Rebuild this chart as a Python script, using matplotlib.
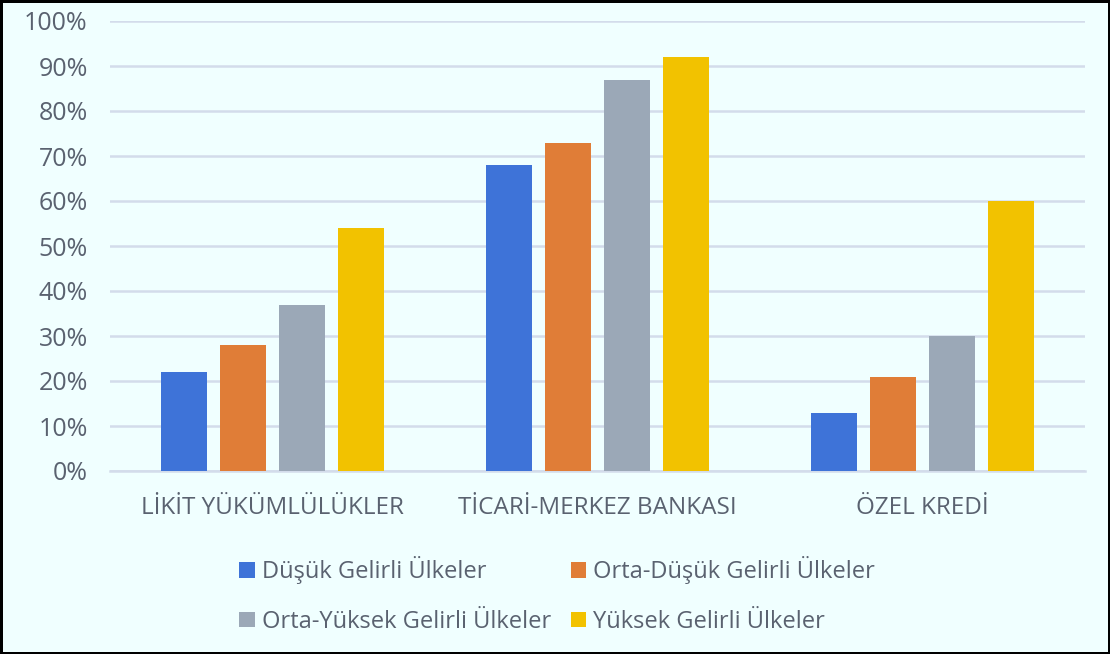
import numpy as np
import matplotlib.pyplot as plt
from matplotlib.ticker import PercentFormatter

kategoriler = ["LİKİT YÜKÜMLÜLÜKLER", "TİCARİ-MERKEZ BANKASI", "ÖZEL KREDİ"]
seriler = ["Düşük Gelirli Ülkeler", "Orta-Düşük Gelirli Ülkeler",
           "Orta-Yüksek Gelirli Ülkeler", "Yüksek Gelirli Ülkeler"]
dusuk = [22, 68, 13]
orta_dusuk = [28, 73, 21]
orta_yuksek = [37, 87, 30]
yuksek = [54, 92, 60]
renkler = ["#3E73D8", "#E07D37", "#9BA8B7", "#F2C200"]

plt.rcParams["font.family"] = ["Open Sans", "DejaVu Sans"]
yazi_rengi = "#5A6270"
arka = "#F0FFFF"

fig = plt.figure(figsize=(11.1, 6.54), dpi=100)
fig.patch.set_facecolor(arka)
fig.patch.set_edgecolor("black")
fig.patch.set_linewidth(2.5)
ax = fig.add_axes([110 / 1110, (654 - 471) / 654, 975 / 1110, 450 / 654])
ax.set_facecolor(arka)

x = np.arange(len(kategoriler))
genislik = 0.1415
adim = 0.1815
degerler = [dusuk, orta_dusuk, orta_yuksek, yuksek]
for i, (ad, vals) in enumerate(zip(seriler, degerler)):
    ax.bar(x + (i - 1.5) * adim, vals, genislik, color=renkler[i], label=ad, zorder=3)

ax.set_xlim(-0.5, 2.5)
ax.set_ylim(0, 100)
ax.set_yticks(range(0, 101, 10))
ax.yaxis.set_major_formatter(PercentFormatter(decimals=0))
ax.set_xticks(x)
ax.set_xticklabels(kategoriler)
ax.tick_params(axis="y", length=0, labelsize=18, colors=yazi_rengi, pad=16)
ax.tick_params(axis="x", length=0, labelsize=17.5, colors=yazi_rengi, pad=18)
ax.grid(axis="y", color="#D3DCEB", linewidth=1.8, zorder=0)
for s in ["top", "right", "left"]:
    ax.spines[s].set_visible(False)
ax.spines["bottom"].set_color("#D3DCEB")
ax.spines["bottom"].set_linewidth(1.8)

h, l = ax.get_legend_handles_labels()
sira = [0, 2, 1, 3]
leg = fig.legend([h[i] for i in sira], [l[i] for i in sira], loc="upper left",
                 bbox_to_anchor=(218 / 1110, 1 - 535 / 654), ncol=2,
                 frameon=False, fontsize=17, handlelength=0.65, handleheight=0.65,
                 handletextpad=0.3, columnspacing=0.85, labelspacing=1.08)
for t in leg.get_texts():
    t.set_color(yazi_rengi)

fig.savefig("out.png", dpi=100, facecolor=arka, edgecolor="black")
